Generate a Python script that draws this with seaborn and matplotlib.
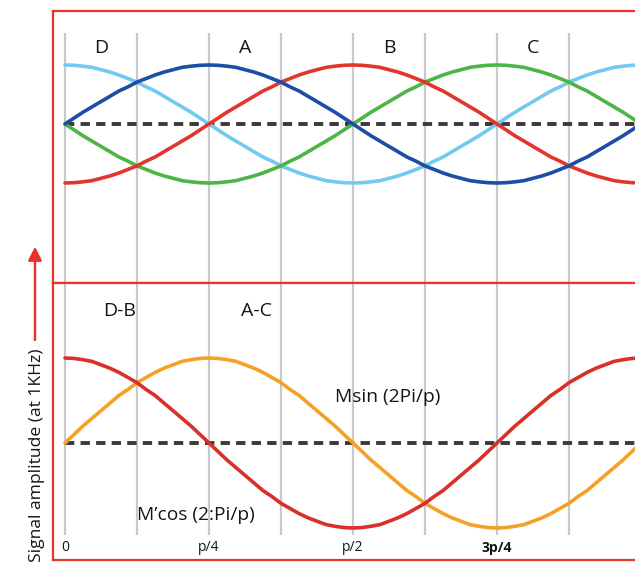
import numpy as np
import pandas as pd
import seaborn as sns
import matplotlib.pyplot as plt

# Phase axis in units of p (one full period), sampled every p/64
phase = [i / 64 for i in range(65)]

# Signal values (normalised amplitude)
quarter = [0.00, 0.10, 0.20, 0.29, 0.38, 0.47, 0.56, 0.63, 0.71,
           0.77, 0.83, 0.88, 0.92, 0.96, 0.98, 0.995, 1.00]
sig_a = (quarter + quarter[-2::-1]
         + [-v for v in quarter[1:]] + [-v for v in quarter[-2::-1]])
sig_b = ([-v for v in quarter[::-1]] + quarter[1:]
         + quarter[-2::-1] + [-v for v in quarter[1:]])
sig_c = [-v for v in sig_a]
sig_d = [-v for v in sig_b]

# Bottom panel: difference signals
msin = sig_a
mcos = sig_d

top_labels = ["D", "A", "B", "C"]
top_label_pos = [0.0625, 0.3125, 0.5625, 0.8125]
bottom_labels = ["D-B", "A-C"]
bottom_label_pos = [0.094, 0.333]
tick_pos = [0, 0.25, 0.5, 0.75]
tick_labels = ["0", "p/4", "p/2", "3p/4"]
grid_pos = [i / 8 for i in range(8)]

RED = "#e8332a"
TXT = "#151515"
sns.set_style("white")
plt.rcParams["font.family"] = ["Open Sans", "DejaVu Sans"]

n = len(phase)
top_df = pd.DataFrame({
    "phase": phase * 4,
    "value": sig_d + sig_a + sig_b + sig_c,
    "signal": ["D"] * n + ["A"] * n + ["B"] * n + ["C"] * n,
})
bot_df = pd.DataFrame({
    "phase": phase * 2,
    "value": msin + mcos,
    "signal": ["Msin"] * n + ["Mcos"] * n,
})

fig = plt.figure(figsize=(6.35, 5.64), dpi=100)
W, H = 635, 564
x0 = 53
ax_top = fig.add_axes([x0 / W, 1 - 283 / H, (670 - x0) / W, (283 - 10.5) / H])
ax_bot = fig.add_axes([x0 / W, 1 - 559.5 / H, (670 - x0) / W, (559.5 - 283) / H])

px_per_unit = 576
xmin = -(65 - x0) / px_per_unit
xmax = (670 - 65) / px_per_unit

# top panel
ax_top.set_xlim(xmin, xmax)
ax_top.set_ylim(-(283 - 124) / 59, (124 - 10.5) / 59)
ax_top.vlines(grid_pos, -3, (124 - 33) / 59, color="#c8c9ce", lw=1.6, zorder=0)
ax_top.hlines(0, phase[0], phase[-1], color="#3a3a3a", lw=2.8,
              linestyles=(0, (2.4, 1.6)), zorder=1)
sns.lineplot(data=top_df, x="phase", y="value", hue="signal", ax=ax_top,
             palette={"A": "#1d4ea6", "B": "#e2362c", "C": "#4db546", "D": "#72c9f1"},
             hue_order=["D", "C", "B", "A"], lw=2.6, legend=False, zorder=2)
for lab, pos in zip(top_labels, top_label_pos):
    ax_top.text(pos, 1.29, lab, ha="center", va="center", fontsize=14, color=TXT)

# bottom panel
ax_bot.set_xlim(xmin, xmax)
ax_bot.set_ylim(-(559.5 - 443) / 85, (443 - 283) / 85)
ax_bot.vlines(grid_pos, -(535 - 443) / 85, 3, color="#c8c9ce", lw=1.6, zorder=0)
ax_bot.hlines(0, phase[0], phase[-1], color="#3a3a3a", lw=2.8,
              linestyles=(0, (2.4, 1.6)), zorder=1)
sns.lineplot(data=bot_df, x="phase", y="value", hue="signal", ax=ax_bot,
             palette={"Msin": "#f5a128", "Mcos": "#d9302a"},
             hue_order=["Msin", "Mcos"], lw=2.6, legend=False, zorder=2)
for lab, pos in zip(bottom_labels, bottom_label_pos):
    ax_bot.text(pos, 1.55, lab, ha="center", va="center", fontsize=14, color=TXT)
ax_bot.text(0.561, 0.54, "Msin (2Pi/p)", ha="center", va="center", fontsize=13.8, color=TXT)
ax_bot.text(0.227, -0.85, "M\u2019cos (2:Pi/p)", ha="center", va="center", fontsize=13.8, color=TXT)
for pos, lab in zip(tick_pos, tick_labels):
    ax_bot.text(pos, -1.235, lab, ha="center", va="center", fontsize=10, color=TXT,
                fontweight="bold" if lab == "3p/4" else "normal")

for ax in (ax_top, ax_bot):
    ax.set_xticks([])
    ax.set_yticks([])
    ax.set_xlabel("")
    ax.set_ylabel("")
    for side in ax.spines:
        ax.spines[side].set_color(RED)
        ax.spines[side].set_linewidth(1.6)

fig.text(37 / W, 1 - 455 / H, "Signal amplitude (at 1KHz)", rotation=90,
         ha="center", va="center", fontsize=12.6, color=TXT)
fig.add_artist(plt.annotate("", xy=(35 / W, 1 - 247 / H), xytext=(35 / W, 1 - 340 / H),
                            xycoords="figure fraction", textcoords="figure fraction",
                            arrowprops=dict(arrowstyle="-|>", color=RED, lw=1.6,
                                            mutation_scale=20, shrinkA=0, shrinkB=0)))

fig.savefig("out.png", dpi=100)
